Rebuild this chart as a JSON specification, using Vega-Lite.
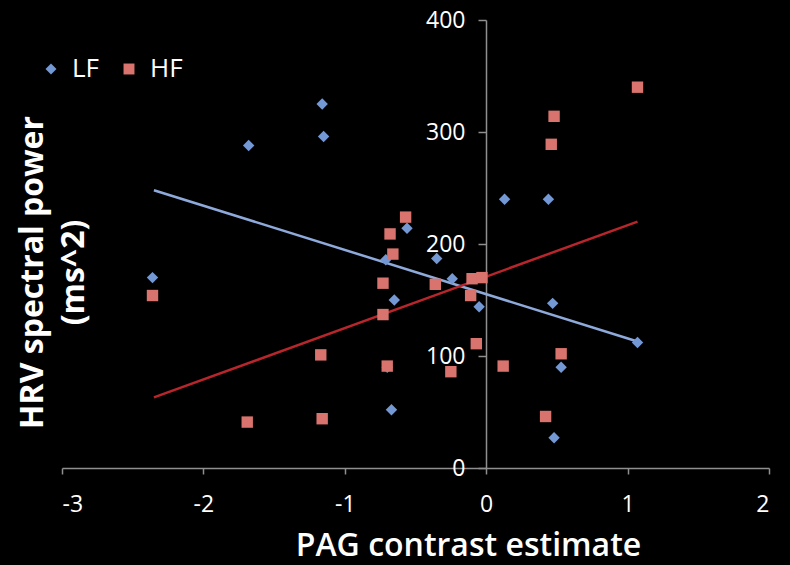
{
  "$schema": "https://vega.github.io/schema/vega-lite/v6.json",
  "autosize": {"type": "none"},
  "width": 707,
  "height": 448,
  "padding": {"left": 62, "top": 20, "right": 21, "bottom": 97},
  "background": "black",
  "config": {
    "view": {"stroke": null},
    "font": "Open Sans",
    "axis": {"grid": false, "domainColor": "#8f8f8f", "tickColor": "#8f8f8f", "domainWidth": 1.5, "tickWidth": 1.5, "labelColor": "white", "titleColor": "white", "labelFont": "Open Sans", "titleFont": "Open Sans"}
  },
  "datasets": {
    "pts": [
      {"series": "LF", "x": -2.36, "y": 170},
      {"series": "LF", "x": -1.68, "y": 288},
      {"series": "LF", "x": -1.16, "y": 325},
      {"series": "LF", "x": -1.15, "y": 296},
      {"series": "LF", "x": -0.71, "y": 186},
      {"series": "LF", "x": -0.56, "y": 214},
      {"series": "LF", "x": -0.65, "y": 150},
      {"series": "LF", "x": -0.70, "y": 90},
      {"series": "LF", "x": -0.67, "y": 52},
      {"series": "LF", "x": -0.35, "y": 187},
      {"series": "LF", "x": -0.24, "y": 169},
      {"series": "LF", "x": -0.05, "y": 144},
      {"series": "LF", "x": 0.13, "y": 240},
      {"series": "LF", "x": 0.44, "y": 240},
      {"series": "LF", "x": 0.47, "y": 147},
      {"series": "LF", "x": 0.53, "y": 90},
      {"series": "LF", "x": 0.48, "y": 27},
      {"series": "LF", "x": 1.07, "y": 112},
      {"series": "HF", "x": -2.36, "y": 154},
      {"series": "HF", "x": -1.69, "y": 41},
      {"series": "HF", "x": -1.16, "y": 44},
      {"series": "HF", "x": -1.17, "y": 101},
      {"series": "HF", "x": -0.73, "y": 137},
      {"series": "HF", "x": -0.73, "y": 165},
      {"series": "HF", "x": -0.66, "y": 191},
      {"series": "HF", "x": -0.68, "y": 209},
      {"series": "HF", "x": -0.57, "y": 224},
      {"series": "HF", "x": -0.36, "y": 164},
      {"series": "HF", "x": -0.70, "y": 91},
      {"series": "HF", "x": -0.25, "y": 86},
      {"series": "HF", "x": -0.07, "y": 111},
      {"series": "HF", "x": -0.11, "y": 154},
      {"series": "HF", "x": -0.10, "y": 169},
      {"series": "HF", "x": -0.03, "y": 170},
      {"series": "HF", "x": 0.12, "y": 91},
      {"series": "HF", "x": 0.48, "y": 314},
      {"series": "HF", "x": 0.46, "y": 289},
      {"series": "HF", "x": 0.53, "y": 102},
      {"series": "HF", "x": 0.42, "y": 46},
      {"series": "HF", "x": 1.07, "y": 340}
    ],
    "trend": [
      {"series": "LF", "x": -2.35, "y": 248},
      {"series": "LF", "x": 1.07, "y": 113},
      {"series": "HF", "x": -2.35, "y": 63},
      {"series": "HF", "x": 1.07, "y": 220}
    ]
  },
  "layer": [
    {
      "data": {"name": "trend"},
      "transform": [{"filter": "datum.series === 'LF'"}],
      "mark": {"type": "line", "strokeWidth": 2.5, "color": "#8eaadb"},
      "encoding": {
        "x": {"field": "x", "type": "quantitative", "scale": {"domain": [-3, 2]},
          "axis": {"values": [-3, -2, -1, 0, 1, 2], "labelExpr": "'' + datum.value", "tickSize": 6, "labelFontSize": 23, "labelBaseline": "alphabetic", "labelPadding": 37, "title": "PAG contrast estimate", "titleFontSize": 32, "titleFontWeight": 600, "titleX": 406, "titleY": 87, "titleBaseline": "alphabetic", "titleAlign": "center"}},
        "y": {"field": "y", "type": "quantitative", "scale": {"domain": [0, 400]},
          "axis": {"values": [0, 100, 200, 300, 400], "offset": -424, "tickSize": 8, "labelFontSize": 23, "labelPadding": 13, "title": ["HRV spectral power", "(ms^2)"], "titleFontSize": 32, "titleFontWeight": "bold", "titleLineHeight": 41, "titleX": -469, "titleY": 252, "titleAngle": -90, "titleAlign": "center", "titleBaseline": "top"}}
      }
    },
    {
      "data": {"name": "trend"},
      "transform": [{"filter": "datum.series === 'HF'"}],
      "mark": {"type": "line", "strokeWidth": 2.5, "color": "#b8262c"},
      "encoding": {
        "x": {"field": "x", "type": "quantitative"},
        "y": {"field": "y", "type": "quantitative"}
      }
    },
    {
      "data": {"name": "pts"},
      "mark": {"type": "point", "filled": true, "opacity": 1, "size": 130},
      "encoding": {
        "x": {"field": "x", "type": "quantitative"},
        "y": {"field": "y", "type": "quantitative"},
        "color": {"field": "series", "type": "nominal", "sort": null, "scale": {"domain": ["LF", "HF"], "range": ["#7398d3", "#d8736d"]},
          "legend": {"title": null, "orient": "none", "legendX": -24, "legendY": 36, "direction": "horizontal", "labelFontSize": 26, "labelColor": "white", "symbolSize": 120, "columnPadding": 17, "labelOffset": 8, "labelAlign": "left"}},
        "shape": {"field": "series", "type": "nominal", "sort": null, "scale": {"domain": ["LF", "HF"], "range": ["diamond", "square"]},
          "legend": {"title": null, "orient": "none", "legendX": -24, "legendY": 36, "direction": "horizontal", "labelFontSize": 26, "labelColor": "white", "symbolSize": 120, "columnPadding": 17, "labelOffset": 8, "labelAlign": "left"}}
      }
    }
  ]
}
